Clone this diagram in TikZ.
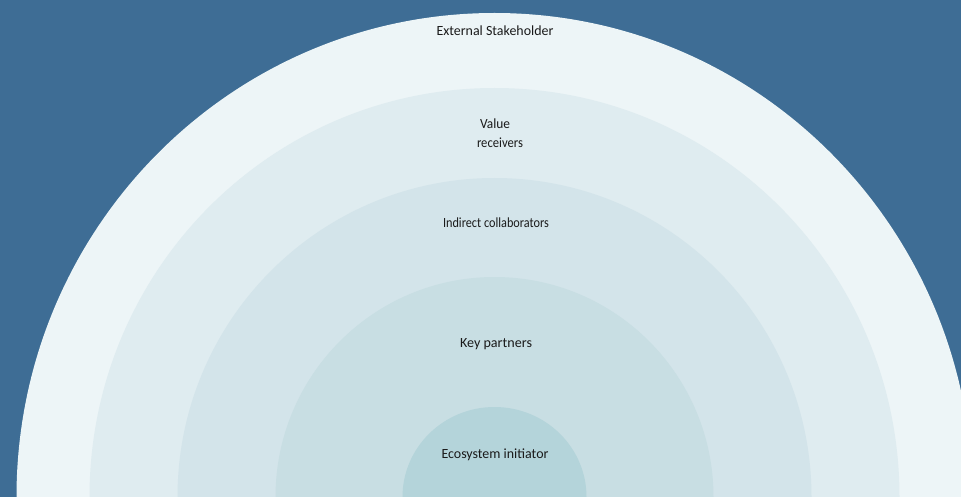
\documentclass[tikz,border=0pt]{standalone}
\usepackage{fontspec}
\setmainfont{Carlito}
\usepackage{graphicx}
\definecolor{bgblue}{HTML}{3E6D95}
\definecolor{ringA}{HTML}{EDF5F7}
\definecolor{ringB}{HTML}{DFECF0}
\definecolor{ringC}{HTML}{D3E4EA}
\definecolor{ringD}{HTML}{C8DEE3}
\definecolor{ringE}{HTML}{B4D4DA}
\definecolor{labeltext}{HTML}{1A1A1A}
\newcommand{\fitw}[2]{\resizebox{#1pt}{\height}{#2}}
\tikzset{
  ringlabel/.style={inner sep=0pt, text=labeltext, font=\fontsize{14}{17}\selectfont, align=center},
}
\begin{document}
\begin{tikzpicture}[x=1pt,y=-1pt]
\useasboundingbox (0,0) rectangle (961,497);
\clip (0,0) rectangle (961,497);
\fill[bgblue] (0,0) rectangle (961,497);
\coordinate (c) at (494.5,497);
\fill[ringA] (c) ellipse [x radius=478, y radius=484];
\fill[ringB] (c) ellipse [x radius=405, y radius=409];
\fill[ringC] (c) ellipse [x radius=317, y radius=319];
\fill[ringD] (c) ellipse [x radius=219, y radius=220];
\fill[ringE] (c) ellipse [x radius=92, y radius=90];
\node[ringlabel] (ext) at (495,31) {\fitw{117}{External Stakeholder}};
\node[ringlabel] (val) at (495,124) {\fitw{30}{Value}};
\node[ringlabel] (rec) at (500,143) {\fitw{46}{receivers}};
\node[ringlabel] (ind) at (496,223) {\fitw{106}{Indirect collaborators}};
\node[ringlabel] (key) at (496,344) {\fitw{72}{Key partners}};
\node[ringlabel] (eco) at (495,455) {\fitw{107}{Ecosystem initiator}};
\end{tikzpicture}
\end{document}
